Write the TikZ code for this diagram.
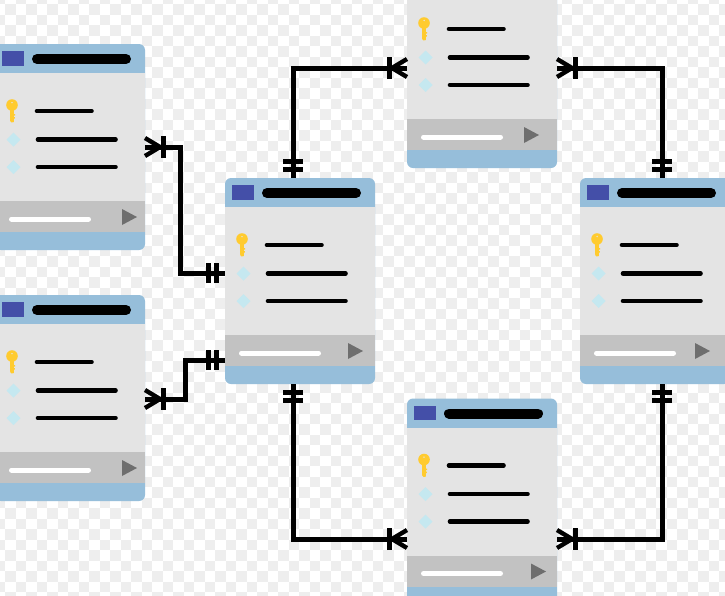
\documentclass[tikz,border=0pt]{standalone}
\usetikzlibrary{calc}
\definecolor{cblue}{HTML}{96BEDA}
\definecolor{cbody}{HTML}{E4E4E4}
\definecolor{cbar}{HTML}{C2C2C2}
\definecolor{cicon}{HTML}{444FA8}
\definecolor{cdiam}{HTML}{C5E8F0}
\definecolor{ckey}{HTML}{FFCB2F}
\definecolor{ctri}{HTML}{6E6E6E}
\definecolor{cchk}{HTML}{EEEEEE}
\tikzset{
  x=1pt,y=-1pt,
  cardnode/.style={draw=none,fill=cblue,rounded corners=6pt,minimum width=150pt,minimum height=206pt,inner sep=0pt,outer sep=0pt,anchor=north west},
  rowline/.style={line width=4.6pt,line cap=round,black},
  titleline/.style={line width=10pt,line cap=round,black},
  link/.style={line width=5pt,black,line join=miter},
  mark bar/.style={line width=5pt,black},
  prong/.style={line width=4.4pt,black,line cap=butt,line join=miter}
}
\newcommand{\card}[4]{%
  \node[cardnode] (#1) at (#2,#3) {};
  \begin{scope}[shift={(#2,#3)}]
    \fill[cbody] (0,29) rectangle (150,158);
    \fill[cbar] (0,157) rectangle (150,188);
    \fill[cicon] (6.5,7) rectangle (29,21.5);
    \draw[titleline] (42,15) -- (131,15);
    \fill[ckey,even odd rule] (17,61) circle (5.8) (17,58.5) circle (1);
    \fill[ckey] (15.2,65) rectangle (18.8,76.5) -- (18.8,78) -- (16.6,78.5) -- (15.2,77) -- cycle;
    \fill[ckey] (18.4,70) rectangle (20.2,71.6) (18.4,73) rectangle (19.8,74.6);
    \draw[rowline] (42,67) -- (96.5,67);
    \draw[rowline] (43,95.5) -- (120.5,95.5);
    \draw[rowline] (43,123) -- (120.5,123);
    \fill[cdiam] (18.5,88.5) -- (25.5,95.5) -- (18.5,102.5) -- (11.5,95.5) -- cycle;
    \fill[cdiam] (18.5,116) -- (25.5,123) -- (18.5,130) -- (11.5,123) -- cycle;
    \draw[line width=5pt,line cap=round,white] (16.5,175) -- (93.5,175);
    \fill[ctri] (#4,165) -- (#4+15,173) -- (#4,181) -- cycle;
  \end{scope}}
\newcommand{\crow}[2]{%
  \begin{scope}[shift={(#1)},rotate=#2]
    \draw[prong] (0,-9) -- (15,0) -- (0,9);
    \draw[prong] (0,0) -- (18,0);
    \draw[mark bar] (18,-11) -- (18,11);
  \end{scope}}
\newcommand{\bars}[2]{%
  \begin{scope}[shift={(#1)},rotate=#2]
    \draw[mark bar] (8.5,-10) -- (8.5,10);
    \draw[mark bar] (16.5,-10) -- (16.5,10);
  \end{scope}}
\begin{document}
\begin{tikzpicture}
\useasboundingbox (0,0) rectangle (725,595);
\clip (0,0) rectangle (725,595);
\fill[white] (0,0) rectangle (725,595);
\foreach \r in {-1,...,56}{\foreach \c in {-1,...,69}{%
  \pgfmathparse{int(mod(\r+\c+200,2))}%
  \ifnum\pgfmathresult=0
    \fill[cchk] ({5+\c*10.5},{4+\r*10.5}) rectangle ++(10.5,10.5);
  \fi}}
\card{lt}{-5}{44}{127}
\card{lb}{-5}{295}{127}
\card{ce}{225}{178}{123}
\card{tp}{407}{-38}{117}
\card{rt}{580}{178}{115}
\card{bt}{407}{398.5}{124}
% ports
\coordinate (p1a) at ($(lt.north east)+(0,103)$);
\coordinate (p1b) at ($(ce.north west)+(0,95)$);
\coordinate (p2a) at ($(lb.north east)+(0,104)$);
\coordinate (p2b) at ($(ce.north west)+(0,182)$);
\coordinate (p3a) at ($(ce.north west)+(68,0)$);
\coordinate (p3b) at ($(tp.north west)+(0,106)$);
\coordinate (p4a) at ($(tp.north east)+(0,106)$);
\coordinate (p4b) at ($(rt.north west)+(82,0)$);
\coordinate (p5a) at ($(ce.south west)+(68,0)$);
\coordinate (p5b) at ($(bt.north west)+(0,140.5)$);
\coordinate (p6a) at ($(rt.south west)+(82,0)$);
\coordinate (p6b) at ($(bt.north east)+(0,140.5)$);
\coordinate (m1) at (180,0);
\coordinate (m2) at (185,0);
% connectors
\draw[link] (p1a) -- (m1 |- p1a) -- (m1 |- p1b) -- (p1b);
\draw[link] (p2b) -- (m2 |- p2b) -- (m2 |- p2a) -- (p2a);
\draw[link] (p3a) -- (p3a |- p3b) -- (p3b);
\draw[link] (p4a) -- (p4b |- p4a) -- (p4b);
\draw[link] (p5a) -- (p5a |- p5b) -- (p5b);
\draw[link] (p6a) -- (p6a |- p6b) -- (p6b);
\crow{p1a}{0}\bars{p1b}{180}
\crow{p2a}{0}\bars{p2b}{180}
\crow{p3b}{180}\bars{p3a}{90}
\crow{p4a}{0}\bars{p4b}{90}
\crow{p5b}{180}\bars{p5a}{-90}
\crow{p6b}{0}\bars{p6a}{-90}
\end{tikzpicture}
\end{document}
